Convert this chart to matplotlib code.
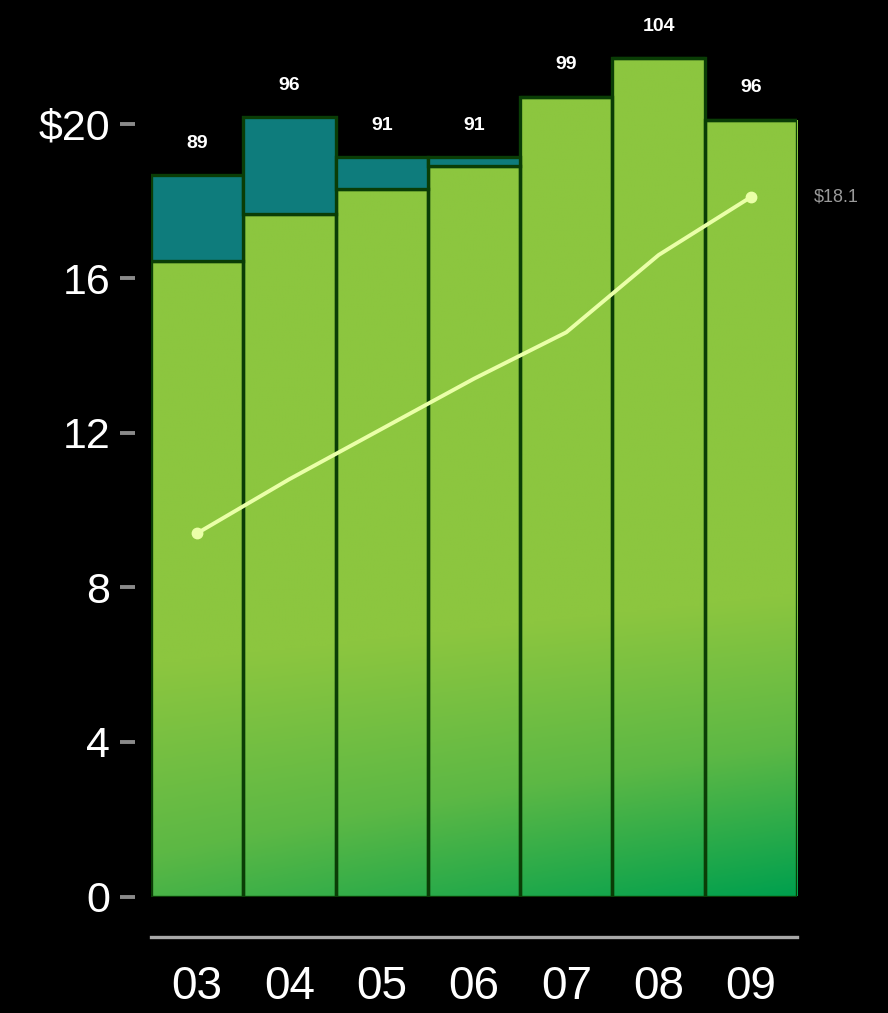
import numpy as np
import matplotlib.pyplot as plt
from matplotlib.colors import LinearSegmentedColormap

years = ['03', '04', '05', '06', '07', '08', '09']
base_vals = [16.45, 17.65, 18.3, 18.9, 20.7, 21.7, 20.1]
total_vals = [18.67, 20.17, 19.13, 19.13, 20.7, 21.7, 20.1]
bar_labels = ['89', '96', '91', '91', '99', '104', '96']
trend_vals = [9.4, 10.8, 12.1, 13.4, 14.6, 16.6, 18.1]
trend_label = '$18.1'
yticks = [0, 4, 8, 12, 16, 20]
ytick_labels = ['0', '4', '8', '12', '16', '$20']

plt.rcParams['font.family'] = ['Liberation Sans', 'DejaVu Sans']

fig = plt.figure(figsize=(8.88, 10.13), dpi=100, facecolor='black')
ax = fig.add_axes([151/888, (1013-896.5)/1013, 646/888, 896.5/1013])
ax.set_facecolor('black')
ymax = 23.2
ax.set_xlim(-0.5, 6.5)
ax.set_ylim(0, ymax)

x = np.arange(len(years))

# green gradient, lighter at the top, deeper green toward the bottom right
gx, gy = np.meshgrid(np.linspace(0, 1, 200), np.linspace(0, ymax, 400))
c = 6.0 + 1.8 * gx
w = np.clip((1 - gy / c) * (0.6 + 0.4 * gx), 0, 1)
cmap = LinearSegmentedColormap.from_list('grn', ['#8cc63f', '#5cb845', '#00a04e'])

green_bars = ax.bar(x, base_vals, width=1.0, facecolor='none',
                    edgecolor='#0a3d06', linewidth=2.4, zorder=3)
for b in green_bars:
    im = ax.imshow(w, cmap=cmap, vmin=0, vmax=1, origin='lower', aspect='auto',
                   extent=[-0.5, 6.5, 0, ymax], zorder=2, interpolation='bilinear')
    im.set_clip_path(b)

top = np.array(total_vals) - np.array(base_vals)
ax.bar(x, top, bottom=base_vals, width=1.0, color='#0e7c7c',
       edgecolor='#0a3d06', linewidth=2.4, zorder=3)

for i, lab in enumerate(bar_labels):
    ax.annotate(lab, (x[i], total_vals[i]), xytext=(0, 23), textcoords='offset points',
                ha='center', va='center', color='white', fontsize=14, fontweight='bold')

ax.plot(x, trend_vals, color='#eaffa8', linewidth=2.8, marker='o', markersize=7.5,
        markevery=[0, len(x) - 1], zorder=5)
ax.annotate(trend_label, (x[-1], trend_vals[-1]), xytext=(45, 0), textcoords='offset points',
            ha='left', va='center', color='#9a9a9a', fontsize=13, annotation_clip=False)

ax.set_yticks(yticks)
ax.set_yticklabels(ytick_labels)
ax.set_xticks(x)
ax.set_xticklabels(years)

for s in ['top', 'right']:
    ax.spines[s].set_visible(False)
ax.spines['left'].set_visible(False)
ax.spines['left'].set_position(('outward', 11.5))
ax.spines['bottom'].set_position(('outward', 29))
ax.spines['bottom'].set_color('#a8a8a8')
ax.spines['bottom'].set_linewidth(2.4)

ax.tick_params(axis='y', direction='out', length=11, width=2.8, color='#8a8a8a',
               pad=7, labelsize=31, labelcolor='white')
ax.tick_params(axis='x', length=0, pad=20, labelsize=33, labelcolor='white')

fig.savefig('out.png', dpi=100, facecolor='black')
